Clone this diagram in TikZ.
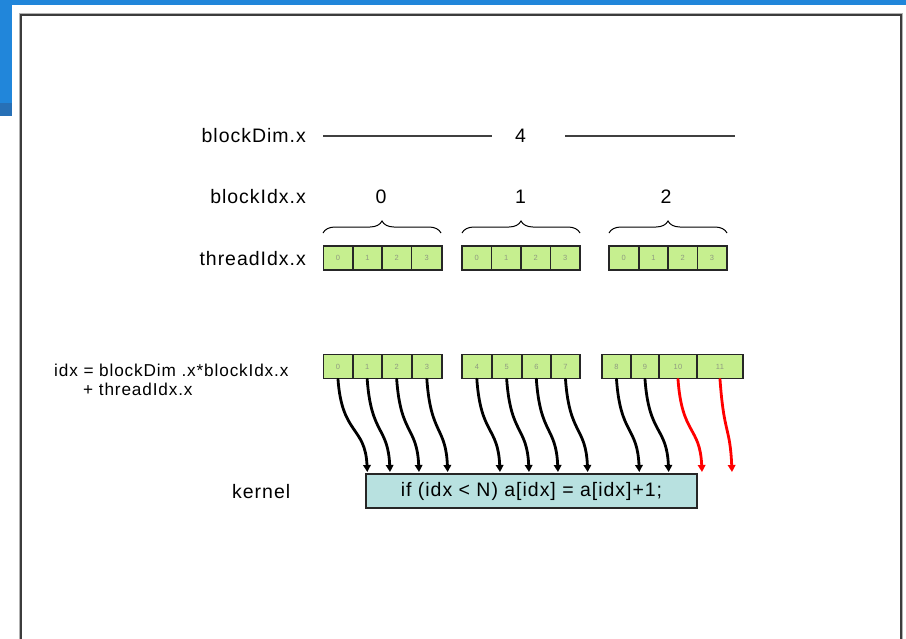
\documentclass[tikz,border=0pt]{standalone}
\usepackage{fontspec}
\setmainfont{Liberation Sans}[LetterSpace=5]
\usetikzlibrary{decorations.pathreplacing,arrows.meta}

\definecolor{slideblue}{HTML}{2186DA}
\definecolor{slidebluedark}{HTML}{2770B6}
\definecolor{cellgreen}{HTML}{C6EF8F}
\definecolor{cellink}{HTML}{8F9A80}
\definecolor{kernelcyan}{HTML}{B8E1E0}
\definecolor{framegray}{HTML}{3C3C3C}

\begin{document}
\begin{tikzpicture}[x=1pt,y=-1pt,
  lbl/.style={font=\fontsize{19.5}{23}\selectfont, inner sep=0pt},
  small/.style={font=\fontsize{17.2}{20}\selectfont, inner sep=0pt},
  cell/.style={draw=black!85, line width=1.6pt, fill=cellgreen, minimum height=24pt,
    inner sep=0pt, text=cellink, font=\fontsize{7.5}{8}\selectfont},
  kernelbox/.style={draw=black!85, line width=1.6pt, fill=kernelcyan, inner sep=0pt,
    font=\fontsize{19.5}{23}\selectfont},
  dimline/.style={draw=black!75, line width=1.4pt},
  bracket/.style={draw=black, line width=1pt, decorate,
    decoration={brace, amplitude=12pt}},
  flow/.style={line width=2.8pt, line cap=round,
    -{Triangle[width=7.5pt,length=7pt]}},
]
\useasboundingbox (0,0) rectangle (906,638);

% slide chrome
\fill[slideblue] (0,0) rectangle (906,5);
\fill[slideblue] (0,0) rectangle (12,103);
\fill[slidebluedark] (0,103) rectangle (12,116);
\draw[black!30, line width=3pt] (20,640) -- (20,14) -- (901,14) -- (901,640);
\draw[framegray, line width=2pt] (20.5,640) -- (20.5,14.5) -- (900.5,14.5) -- (900.5,640);

% blockDim.x
\node[lbl, anchor=east] (bdlabel) at (306,136) {blockDim.x};
\node[lbl] (four) at (520.5,136) {4};
\coordinate (dimA) at (323,136);
\coordinate (dimB) at (492,136);
\coordinate (dimC) at (565,136);
\coordinate (dimD) at (735,136);
\draw[dimline] (dimA) -- (dimB);
\draw[dimline] (dimC) -- (dimD);

% blockIdx.x
\node[lbl, anchor=east] (bilabel) at (306,197) {blockIdx.x};
\node[lbl] (bi0) at (381,197) {0};
\node[lbl] (bi1) at (520.5,197) {1};
\node[lbl] (bi2) at (666,197) {2};

\draw[bracket] (323,233) -- (441,233);
\draw[bracket] (462,233) -- (580,233);
\draw[bracket] (609,233) -- (727,233);

% threadIdx.x cells
\node[lbl, anchor=east] (tilabel) at (306,259) {threadIdx.x};
\foreach \n/\l/\r/\t in {
  0/323.3/352.7/0, 1/352.7/382/1, 2/382/411.3/2, 3/411.3/442/3,
  4/462/491.5/0, 5/491.5/521/1, 6/521/550.5/2, 7/550.5/580/3,
  8/608.7/638.7/0, 9/638.7/668/1, 10/668/697.3/2, 11/697.3/726.7/3}
  \node[cell, minimum width={\r-\l}] (t\n) at ({(\l+\r)/2},258) {\t};

% global index cells
\node[small, anchor=west] (idxA) at (54,370) {idx = blockDim .x*blockIdx.x};
\node[small, anchor=west] (idxB) at (83,389) {+ threadIdx.x};
\foreach \n/\l/\r in {
  0/323.3/352.7, 1/352.7/381.7, 2/381.7/411.7, 3/411.7/442,
  4/462/491.7, 5/491.7/521.7, 6/521.7/551, 7/551/580,
  8/602/631, 9/631/659, 10/659/697, 11/697/743}
  \node[cell, minimum width={\r-\l}] (i\n) at ({(\l+\r)/2},366.5) {\n};

% kernel
\node[lbl, anchor=west] (klabel) at (232,492) {kernel};
\node[kernelbox, minimum width=331pt, minimum height=34pt] (kernel) at (531.5,491)
  {if (idx < N) a[idx] = a[idx]+1;};

% thread-to-kernel arrows
\foreach \k/\ex/\col in {
  0/367.3/black, 1/390/black, 2/419/black, 3/447.7/black,
  4/500/black, 5/529/black, 6/558/black, 7/587.7/black,
  8/639.3/black, 9/668.7/black, 10/702/red, 11/732/red} {
  \coordinate (e\k) at (\ex,472);
  \draw[flow, \col] (i\k.south) .. controls +(4,56) and +(-2,-46) .. (e\k);
}
\end{tikzpicture}
\end{document}
